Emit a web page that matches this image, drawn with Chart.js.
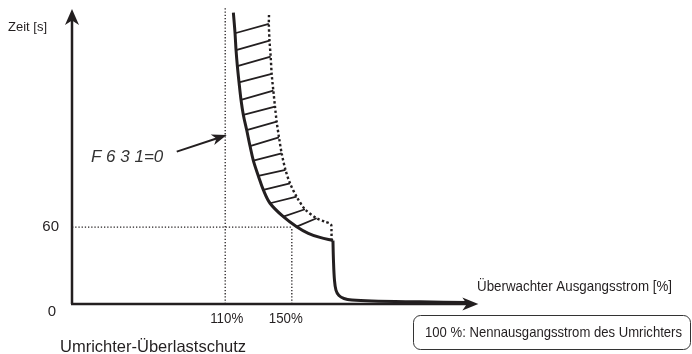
<!DOCTYPE html>
<html>
<head>
<meta charset="utf-8">
<script src="https://cdn.jsdelivr.net/npm/chart.js@4.4.0/dist/chart.umd.min.js"></script>
<style>
    html, body { margin: 0; padding: 0; background: #fff; }
    canvas { display: block; }
</style>
</head>
<body>
<canvas id="overloadChart" width="692" height="354"></canvas>
<script>
// Umrichter-Ueberlastschutz: Zeit [s] ueber Ausgangsstrom [%]

// solid characteristic (F631=0)
const solidX = [114.9, 115.9, 116.5, 117.3, 118.3, 119.5, 120.9, 122.9, 124.9, 126.9, 129.9, 132.9, 136.9, 144.9, 152.9, 159.9, 166.9, 174.7];
const solidY = [227.6, 211.5, 198.4, 185.9, 173.2, 159.4, 147.7, 135.9, 123.4, 112.0, 100.0, 89.1, 78.7, 68.2, 60.4, 55.2, 52.0, 49.6];

// drop to zero after the limit
const dropX = [174.7, 175.0, 175.6, 176.5, 178.3, 181.3, 186.1, 198.1, 227.0, 255.2];
const dropY = [49.6, 34.4, 18.75, 10.9, 6.6, 4.3, 3.1, 2.3, 1.7, 1.2];

// dotted upper limit
const dottedX = [136.3, 136.2, 136.6, 137.3, 137.9, 138.9, 139.9, 140.9, 142.3, 143.9, 146.2, 148.9, 152.9, 157.9, 164.9, 169.9, 173.5, 173.8, 173.9];
const dottedY = [225.8, 218.8, 205.7, 193.2, 179.7, 166.6, 154.1, 142.4, 130.2, 117.7, 104.7, 94.3, 83.8, 74.0, 67.0, 64.3, 62.1, 56.25, 50.0];

// hatching between the two curves
const hatchStartX = [115.9, 116.5, 117.3, 118.3, 119.5, 120.9, 122.9, 124.9, 126.9, 129.9, 132.9, 136.9, 144.9, 152.9];
const hatchStartY = [211.5, 198.4, 185.9, 173.2, 159.4, 147.7, 135.9, 123.4, 112.0, 100.0, 89.1, 78.7, 68.2, 60.4];
const hatchEndX = [136.2, 136.6, 137.3, 137.9, 138.9, 139.9, 140.9, 142.3, 143.9, 146.2, 148.9, 152.9, 157.9, 164.9];
const hatchEndY = [218.8, 205.7, 193.2, 179.7, 166.6, 154.1, 142.4, 130.2, 117.7, 104.7, 94.3, 83.8, 74.0, 67.0];

// axis marks
const xMarks = [110, 150];
const xMarkLabels = ['110%', '150%'];
const yMarks = [0, 60];
const yMarkLabels = ['0', '60'];

const X_MIN = 18, X_MAX = 263, Y_MIN = 0, Y_MAX = 232;
const Y_ARROW_TOP = 230.5, X_ARROW_END = 262;
// annotation arrow "F631=0" (start, tip) in data units
const noteArrow = { x0: 80.9, y0: 119.0, x1: 110.9, y1: 132.0 };

const INK = '#231f20';

function pts(xs, ys) {
    return xs.map((x, i) => ({ x: x, y: ys[i] }));
}

function hatchPoints() {
    const out = [];
    hatchStartX.forEach((x, i) => {
        out.push({ x: x, y: hatchStartY[i] });
        out.push({ x: hatchEndX[i], y: hatchEndY[i] });
        out.push({ x: NaN, y: NaN });
    });
    return out;
}

const refDotted = {
    borderColor: INK,
    borderWidth: 1.3,
    borderDash: [1.3, 1.9],
    pointRadius: 0,
    showLine: true,
    clip: false
};

const datasets = [
    Object.assign({ data: [{ x: xMarks[0], y: 0 }, { x: xMarks[0], y: Y_MAX }] }, refDotted),
    Object.assign({ data: [{ x: xMarks[1], y: 0 }, { x: xMarks[1], y: yMarks[1] }] }, refDotted),
    Object.assign({ data: [{ x: X_MIN, y: yMarks[1] }, { x: xMarks[1], y: yMarks[1] }] }, refDotted),
    {
        data: hatchPoints(),
        borderColor: INK,
        borderWidth: 1.8,
        pointRadius: 0,
        showLine: true,
        spanGaps: false,
        clip: false
    },
    {
        data: pts(dottedX, dottedY),
        borderColor: INK,
        borderWidth: 2.4,
        borderDash: [2.4, 2.4],
        tension: 0.3,
        pointRadius: 0,
        showLine: true,
        clip: false
    },
    {
        data: pts(solidX, solidY),
        borderColor: INK,
        borderWidth: 3,
        tension: 0.35,
        pointRadius: 0,
        showLine: true,
        clip: false
    },
    {
        data: pts(dropX, dropY),
        borderColor: INK,
        borderWidth: 3,
        tension: 0.35,
        pointRadius: 0,
        showLine: true,
        clip: false
    }
];

function arrowHead(ctx, tipX, tipY, angle, len, half) {
    ctx.save();
    ctx.translate(tipX, tipY);
    ctx.rotate(angle);
    ctx.beginPath();
    ctx.moveTo(0, 0);
    ctx.lineTo(-len, -half);
    ctx.lineTo(-len * 0.72, 0);
    ctx.lineTo(-len, half);
    ctx.closePath();
    ctx.fill();
    ctx.restore();
}

function label(ctx, text, x, y, font, align, maxWidth) {
    ctx.font = font;
    ctx.textAlign = align;
    ctx.textBaseline = 'middle';
    if (maxWidth) ctx.fillText(text, x, y, maxWidth);
    else ctx.fillText(text, x, y);
}

const decorPlugin = {
    id: 'decor',
    afterDatasetsDraw(chart) {
        const ctx = chart.ctx;
        const xs = chart.scales.x, ys = chart.scales.y;
        const x0 = xs.getPixelForValue(X_MIN), y0 = ys.getPixelForValue(0);
        const yTop = ys.getPixelForValue(Y_ARROW_TOP), xEnd = xs.getPixelForValue(X_ARROW_END);

        ctx.save();
        ctx.strokeStyle = INK;
        ctx.fillStyle = INK;
        ctx.lineWidth = 2.5;

        // axes
        ctx.beginPath();
        ctx.moveTo(x0, y0);
        ctx.lineTo(x0, yTop + 10);
        ctx.moveTo(x0 - 1, y0);
        ctx.lineTo(xEnd - 10, y0);
        ctx.stroke();
        arrowHead(ctx, x0, yTop, -Math.PI / 2, 16, 7);
        arrowHead(ctx, xEnd, y0, 0, 16, 6.5);

        // annotation arrow
        const ax0 = xs.getPixelForValue(noteArrow.x0), ay0 = ys.getPixelForValue(noteArrow.y0);
        const ax1 = xs.getPixelForValue(noteArrow.x1), ay1 = ys.getPixelForValue(noteArrow.y1);
        const ang = Math.atan2(ay1 - ay0, ax1 - ax0);
        ctx.lineWidth = 2;
        ctx.beginPath();
        ctx.moveTo(ax0, ay0);
        ctx.lineTo(ax1 - 10 * Math.cos(ang), ay1 - 10 * Math.sin(ang));
        ctx.stroke();
        arrowHead(ctx, ax1, ay1, ang, 15, 5.5);

        // texts (narrow look: larger size squeezed to the measured width)
        const sans = "'Liberation Sans', Arial, sans-serif";
        label(ctx, 'Zeit [s]', 8, 27, '13.5px ' + sans, 'left', 39);
        label(ctx, yMarkLabels[1], 59, ys.getPixelForValue(yMarks[1]), '15px ' + sans, 'right', 17);
        label(ctx, yMarkLabels[0], 52, y0 + 8, '15px ' + sans, 'center');
        label(ctx, xMarkLabels[0], xs.getPixelForValue(xMarks[0]) + 1.5, y0 + 14.5, '15px ' + sans, 'center', 33);
        label(ctx, xMarkLabels[1], xs.getPixelForValue(xMarks[1]) - 6, y0 + 14.5, '15px ' + sans, 'center', 34);
        label(ctx, 'Umrichter-Überlastschutz', 60, 347, '16.5px ' + sans, 'left', 188);
        label(ctx, 'Überwachter Ausgangsstrom [%]', 477, 287, '14.5px ' + sans, 'left', 195);
        ctx.fillStyle = '#333';
        label(ctx, 'F 6 3 1=0', 91, 157, 'italic 17px ' + sans, 'left', 73);
        ctx.fillStyle = INK;

        // note box
        ctx.lineWidth = 1;
        ctx.strokeStyle = '#333';
        ctx.beginPath();
        ctx.roundRect(413.5, 315.5, 277, 34, 7);
        ctx.stroke();
        label(ctx, '100 %: Nennausgangsstrom des Umrichters', 425, 333, '15px ' + sans, 'left', 257);

        ctx.restore();
    }
};

new Chart(document.getElementById('overloadChart'), {
    type: 'scatter',
    data: { datasets: datasets },
    options: {
        responsive: false,
        animation: false,
        devicePixelRatio: 1,
        layout: { padding: { left: 72, right: 212, top: 7, bottom: 50 } },
        plugins: {
            legend: { display: false },
            tooltip: { enabled: false }
        },
        scales: {
            x: { type: 'linear', min: X_MIN, max: X_MAX, display: false },
            y: { type: 'linear', min: Y_MIN, max: Y_MAX, display: false }
        }
    },
    plugins: [decorPlugin]
});
</script>
</body>
</html>
